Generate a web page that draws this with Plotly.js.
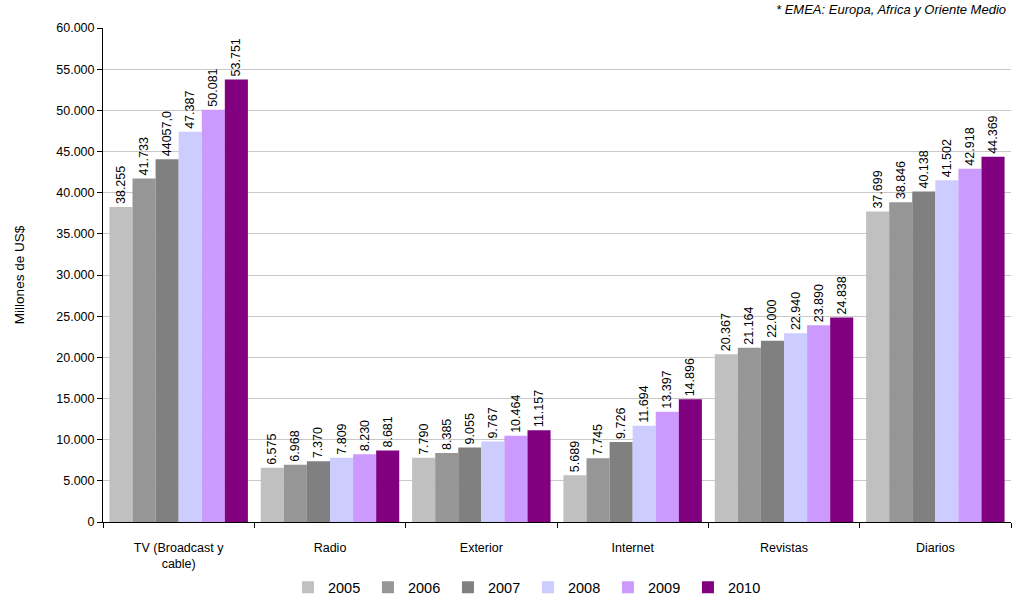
<!DOCTYPE html>
<html>
<head>
<meta charset="utf-8">
<script src="https://cdn.plot.ly/plotly-3.0.1.min.js"></script>
<style>
  html, body { margin: 0; padding: 0; background: #fff; }
  #chart { width: 1014px; height: 596px; }
</style>
</head>
<body>
<div id="chart"></div>
<script>
// Advertising spend by medium, EMEA, millions of US$
const categories = ["TV (Broadcast y<br>cable)", "Radio", "Exterior", "Internet", "Revistas", "Diarios"];
const years = ["2005", "2006", "2007", "2008", "2009", "2010"];

const v2005 = [38255, 6575, 7790, 5689, 20367, 37699];
const v2006 = [41733, 6968, 8385, 7745, 21164, 38846];
const v2007 = [44057, 7370, 9055, 9726, 22000, 40138];
const v2008 = [47387, 7809, 9767, 11694, 22940, 41502];
const v2009 = [50081, 8230, 10464, 13397, 23890, 42918];
const v2010 = [53751, 8681, 11157, 14896, 24838, 44369];

const t2005 = ["38.255", "6.575", "7.790", "5.689", "20.367", "37.699"];
const t2006 = ["41.733", "6.968", "8.385", "7.745", "21.164", "38.846"];
const t2007 = ["44057,0", "7.370", "9.055", "9.726", "22.000", "40.138"];
const t2008 = ["47.387", "7.809", "9.767", "11.694", "22.940", "41.502"];
const t2009 = ["50.081", "8.230", "10.464", "13.397", "23.890", "42.918"];
const t2010 = ["53.751", "8.681", "11.157", "14.896", "24.838", "44.369"];

const series = [v2005, v2006, v2007, v2008, v2009, v2010];
const texts = [t2005, t2006, t2007, t2008, t2009, t2010];
const colors = ["#C0C0C0", "#969696", "#808080", "#CCCCFF", "#CC99FF", "#800080"];

const font = "Liberation Sans, Arial, sans-serif";

const traces = years.map((y, i) => ({
  type: "bar",
  name: y,
  x: categories,
  y: series[i],
  text: texts[i],
  texttemplate: "%{text}",
  textposition: "outside",
  textangle: -90,
  constraintext: "none",
  cliponaxis: false,
  textfont: { family: font, size: 12.5, color: "#000" },
  marker: { color: colors[i], line: { width: 0 } },
  hoverinfo: "x+y+name"
}));

const layout = {
  width: 1014,
  height: 596,
  margin: { l: 103, r: 3, t: 28, b: 74, autoexpand: false },
  paper_bgcolor: "#fff",
  plot_bgcolor: "#fff",
  separators: ",.",
  barmode: "group",
  bargap: 0.085,
  bargroupgap: 0,
  font: { family: font, size: 12, color: "#000" },
  xaxis: {
    type: "category",
    showline: true,
    linecolor: "#000",
    linewidth: 1,
    ticks: "outside",
    tickson: "boundaries",
    ticklen: 5,
    tickcolor: "#000",
    ticklabelstandoff: 14,
    tickfont: { family: font, size: 12.5 },
    showgrid: false,
    zeroline: false,
    automargin: false,
    fixedrange: true
  },
  yaxis: {
    range: [0, 60000],
    dtick: 5000,
    tickformat: ",d",
    showline: true,
    linecolor: "#000",
    linewidth: 1,
    ticks: "outside",
    ticklen: 5,
    tickcolor: "#000",
    showgrid: true,
    gridcolor: "#C8C8C8",
    gridwidth: 1,
    zeroline: false,
    tickfont: { family: font, size: 12.5 },
    title: { text: "Millones de US$", font: { family: font, size: 13.5 }, standoff: 28 },
    automargin: false,
    fixedrange: true
  },
  legend: {
    orientation: "h",
    x: 0.468,
    xanchor: "center",
    y: -0.1,
    yanchor: "top",
    font: { family: font, size: 14.5 },
    itemwidth: 30,
    entrywidth: 35,
    entrywidthmode: "pixels",
    traceorder: "normal"
  },
  annotations: [{
    xref: "paper", yref: "paper",
    x: 0.997, y: 1,
    xanchor: "right", yanchor: "bottom",
    yshift: 9,
    showarrow: false,
    text: "<i>* EMEA: Europa, Africa y Oriente Medio</i>",
    font: { family: font, size: 13, color: "#000" }
  }],
  showlegend: true
};

Plotly.newPlot("chart", traces, layout, { displayModeBar: false, staticPlot: true });
</script>
</body>
</html>
